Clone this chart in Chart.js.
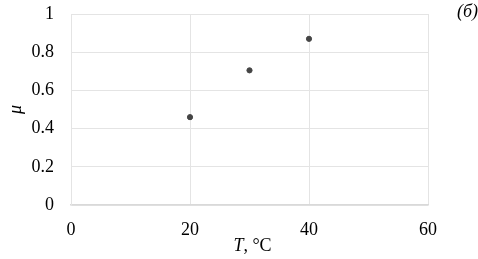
<!DOCTYPE html>
<html>
<head>
<meta charset="utf-8">
<script src="https://cdn.jsdelivr.net/npm/chart.js@4/dist/chart.umd.min.js"></script>
<style>
  html, body { margin: 0; padding: 0; background: #fff; }
  #wrap { width: 478px; height: 259px; position: relative; }
</style>
</head>
<body>
<div id="wrap"><canvas id="chart"></canvas></div>
<script>
// data
const temps = [20, 30, 40];
const mu = [0.46, 0.705, 0.87];
const xTicks = [0, 20, 40, 60];
const yTicks = [0, 0.2, 0.4, 0.6, 0.8, 1];

const serif = "'Liberation Serif', 'Times New Roman', serif";

// axis titles and panel letter, drawn on the canvas
const labelsPlugin = {
    id: "labels",
    afterDraw(chart) {
        const ctx = chart.ctx;
        const area = chart.chartArea;
        ctx.save();
        ctx.fillStyle = "#000";
        ctx.textBaseline = "middle";

        // x title: italic T + ", °C"
        const cx = (area.left + area.right) / 2 + 3;
        ctx.font = "italic 18px " + serif;
        const tW = ctx.measureText("T").width;
        ctx.font = "18px " + serif;
        const restW = ctx.measureText(", °C").width;
        let x0 = cx - (tW + restW) / 2;
        ctx.textAlign = "left";
        ctx.font = "italic 18px " + serif;
        ctx.fillText("T", x0, 246);
        ctx.font = "18px " + serif;
        ctx.fillText(", °C", x0 + tW, 246);

        // y title
        ctx.save();
        ctx.translate(16, (area.top + area.bottom) / 2);
        ctx.rotate(-Math.PI / 2);
        ctx.textAlign = "center";
        ctx.font = "italic 18px " + serif;
        ctx.fillText("μ", 0, 0);
        ctx.restore();

        // panel letter
        ctx.textAlign = "right";
        ctx.font = "italic 18px " + serif;
        ctx.fillText("(б)", 478, 12);
        ctx.restore();
    }
};

const ctx = document.getElementById("chart").getContext("2d");
new Chart(ctx, {
    type: "scatter",
    data: {
        datasets: [{
            data: temps.map((t, i) => ({ x: t, y: mu[i] })),
            backgroundColor: "#454545",
            borderColor: "#454545",
            pointRadius: 2.6,
            pointHoverRadius: 2.6
        }]
    },
    options: {
        responsive: true,
        maintainAspectRatio: false,
        animation: false,
        layout: { padding: { top: 14, right: 50, left: 0, bottom: 0 } },
        plugins: {
            legend: { display: false },
            tooltip: { enabled: false }
        },
        scales: {
            x: {
                type: "linear",
                min: 0,
                max: 60,
                afterBuildTicks: s => { s.ticks = xTicks.map(v => ({ value: v })); },
                afterFit: s => { s.height = 54; },
                ticks: {
                    padding: 14,
                    color: "#000",
                    font: { family: serif, size: 18 },
                    maxRotation: 0
                },
                grid: { color: "#e4e4e4", drawTicks: false },
                border: { color: "#d9d9d9", width: 1.5 }
            },
            y: {
                min: 0,
                max: 1,
                afterBuildTicks: s => { s.ticks = yTicks.map(v => ({ value: v })); },
                afterFit: s => { s.width = 71; s.paddingTop = 0; },
                ticks: {
                    padding: 17,
                    color: "#000",
                    font: { family: serif, size: 18 },
                    callback: v => String(Math.round(v * 10) / 10)
                },
                grid: { color: "#e4e4e4", drawTicks: false },
                border: { color: "#e4e4e4" }
            }
        }
    },
    plugins: [labelsPlugin]
});
</script>
</body>
</html>
